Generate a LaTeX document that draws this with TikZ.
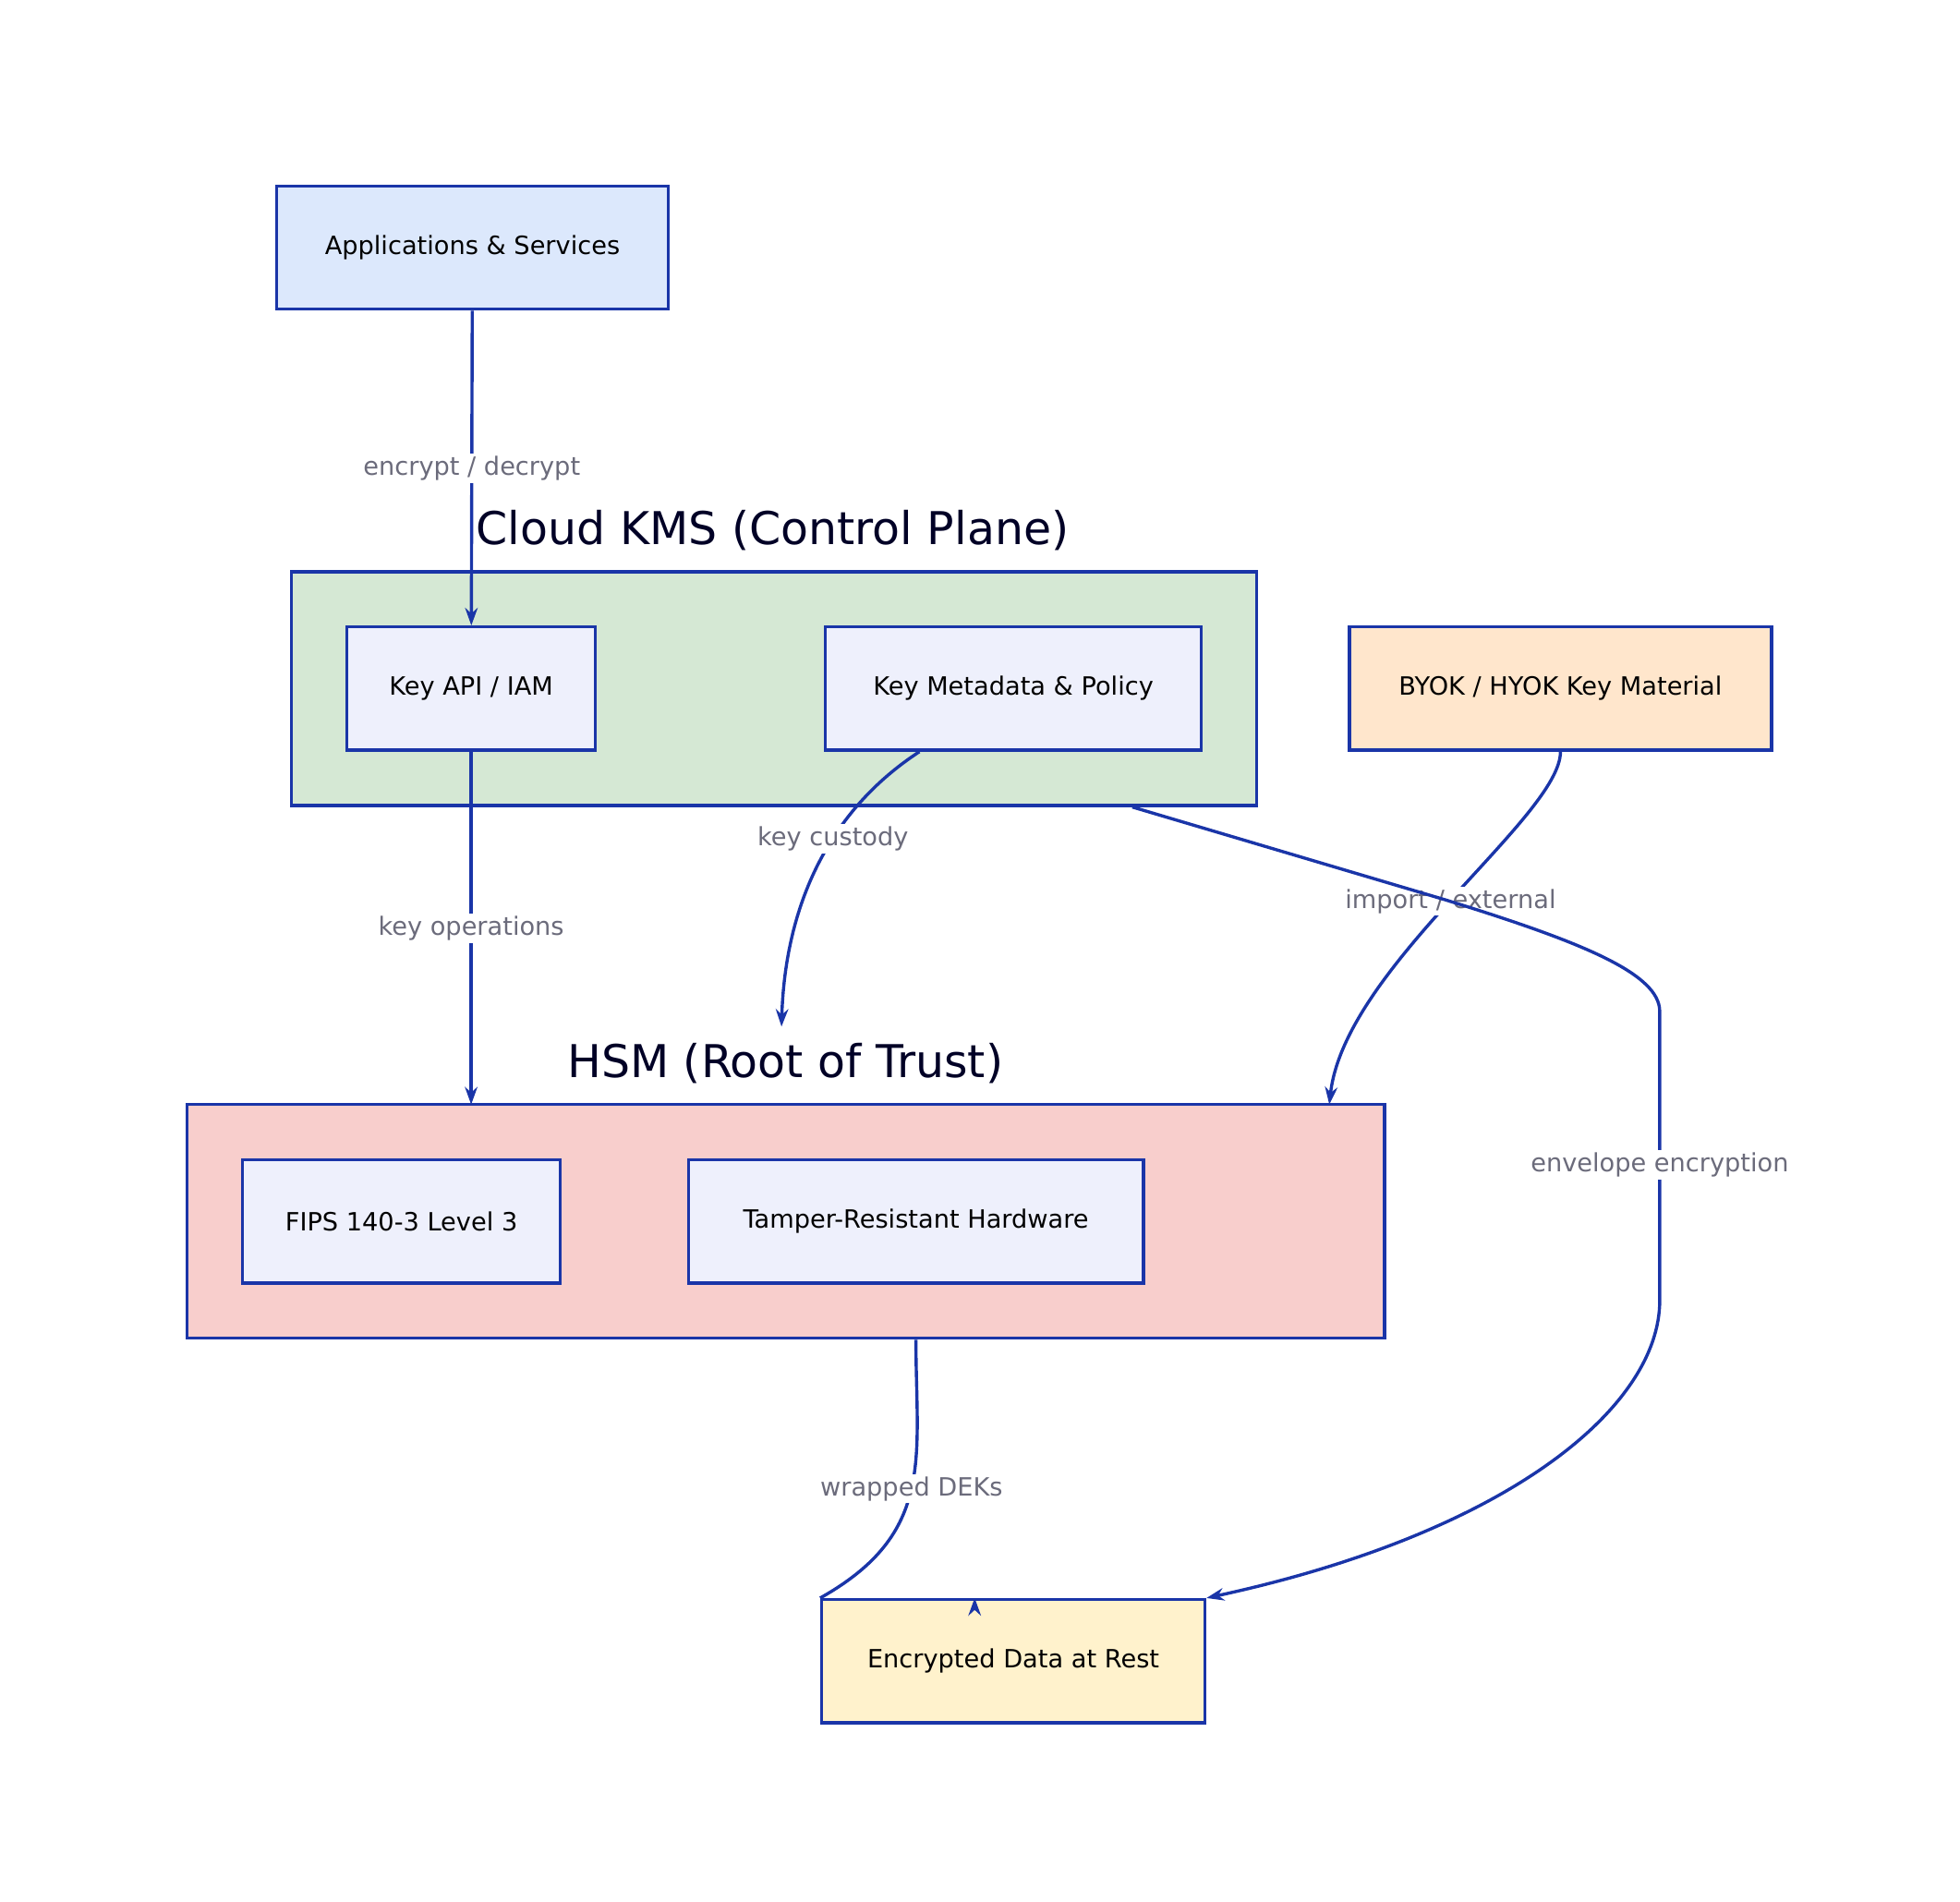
\documentclass[tikz,border=0pt]{standalone}
\usepackage{fontspec}
\setmainfont{DejaVu Sans}
\usetikzlibrary{positioning,arrows.meta}
\definecolor{edgeblue}{HTML}{1A35A8}
\definecolor{appfill}{HTML}{DCE8FC}
\definecolor{kmsfill}{HTML}{D5E8D4}
\definecolor{innerfill}{HTML}{EEF0FC}
\definecolor{byokfill}{HTML}{FFE6CC}
\definecolor{hsmfill}{HTML}{F8CECC}
\definecolor{encfill}{HTML}{FFF2CC}
\definecolor{labelgray}{HTML}{6B6B7B}
\begin{document}
\begin{tikzpicture}[x=1pt,y=-1pt,>={Stealth[length=14pt,width=10pt]},line width=2.5pt,
  main node/.style={draw=edgeblue,rectangle,minimum height=98pt,inner sep=0pt,font=\fontsize{20}{24}\selectfont},
  group box/.style={draw=edgeblue,rectangle,inner sep=0pt},
  group title/.style={font=\fontsize{36}{42}\selectfont,text=black!85!blue},
  edge label/.style={fill=white,text=labelgray,inner sep=2pt,font=\fontsize{20}{24}\selectfont},
  link/.style={->,draw=edgeblue}]
\useasboundingbox (0,0) rectangle (1560,1513);

% groups
\node[group box,fill=kmsfill,minimum width=768pt,minimum height=186pt] (kms) at (616,548) {};
\node[group title] (kmst) at (615,422) {Cloud KMS (Control Plane)};
\node[group box,fill=hsmfill,minimum width=953pt,minimum height=186pt] (hsm) at (625.5,972) {};
\node[group title] (hsmt) at (625,846) {HSM (Root of Trust)};

% nodes
\node[main node,fill=appfill,minimum width=312pt] (apps) at (376,197) {Applications \& Services};
\node[main node,fill=innerfill,minimum width=198pt] (api) at (375,548) {Key API / IAM};
\node[main node,fill=innerfill,minimum width=299pt] (meta) at (806.5,548) {Key Metadata \& Policy};
\node[main node,fill=byokfill,minimum width=336pt] (byok) at (1242,548) {BYOK / HYOK Key Material};
\node[main node,fill=innerfill,minimum width=253pt] (fips) at (319.5,972) {FIPS 140-3 Level 3};
\node[main node,fill=innerfill,minimum width=362pt] (tamper) at (729,972) {Tamper-Resistant Hardware};
\node[main node,fill=encfill,minimum width=305pt] (enc) at (806.5,1322) {Encrypted Data at Rest};

\coordinate (hsmapi) at (375,879);
\coordinate (hsmmeta) at (622,817);
\coordinate (hsmbyok) at (1058,879);

% connectors
\draw[link] (apps) -- node[edge label,pos=0.5] {encrypt / decrypt} (api);
\draw[link] (api) -- node[edge label,pos=0.5] {key operations} (hsmapi);
\draw[link] (meta.south west) ++(76,0) coordinate (ms) (ms) .. controls (660,645) and (625,720) .. node[edge label,pos=0.4] {key custody} (hsmmeta);
\draw[link] (byok.south) .. controls (1242,650) and (1070,770) .. node[edge label,pos=0.5] {import / external} (hsmbyok);
\draw[link] (kms.south east) ++(-100,0) coordinate (ks) (ks) -- (1150,716) .. controls (1260,750) and (1321,775) .. (1321,805)
  -- node[edge label,pos=0.53] {envelope encryption} (1321,1035) .. controls (1321,1120) and (1200,1220) .. (enc.north east);
\draw[link] (tamper.south |- hsm.south) .. controls (729,1160) and (745,1220) .. node[edge label,pos=0.5] {wrapped DEKs} (enc.north west) ++(123,0);
\end{tikzpicture}
\end{document}
